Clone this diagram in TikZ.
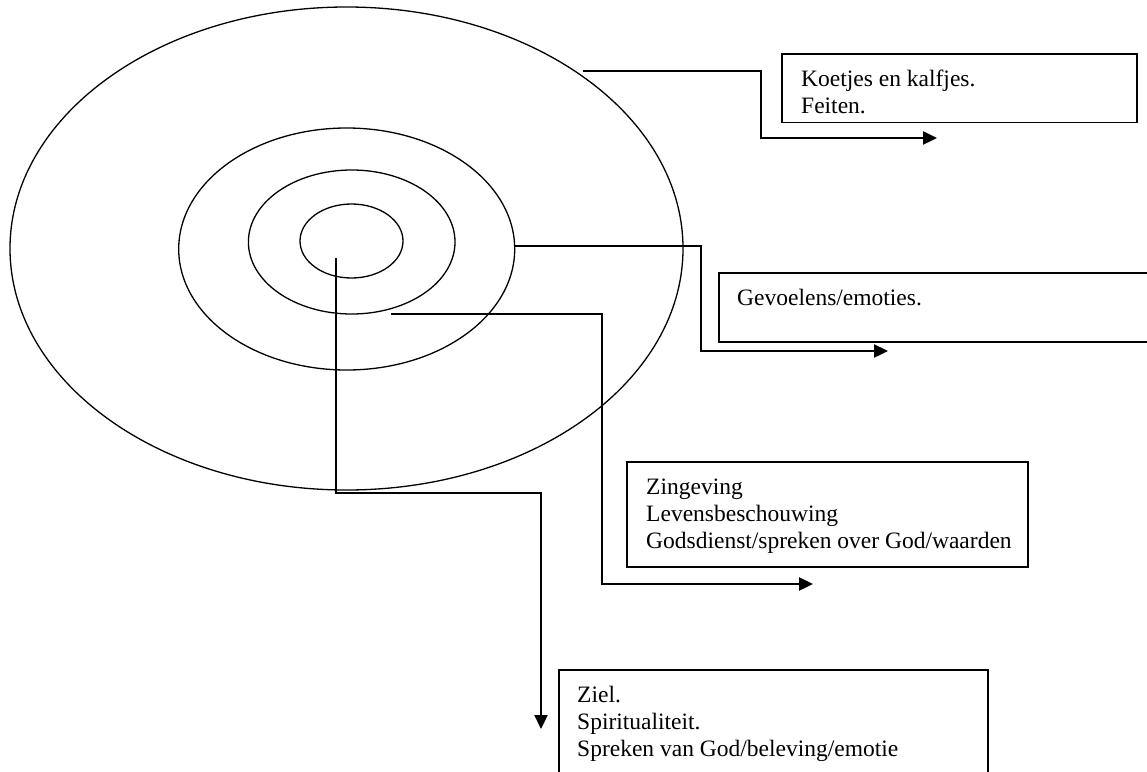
\documentclass[tikz,border=0pt]{standalone}
\usepackage{fontspec}
\setmainfont{Liberation Serif}
\usetikzlibrary{arrows.meta,shapes.geometric}
\begin{document}
\begin{tikzpicture}[x=1pt,y=-1pt,
  ring/.style={draw=black,line width=1.3pt,ellipse,inner sep=0pt,outer sep=0pt},
  boxed/.style={draw=black,line width=1.4pt,rectangle,inner sep=0pt,outer sep=0pt},
  conn/.style={draw=black,line width=2.3pt,line join=miter,-{Triangle[length=14pt,width=13pt]}},
  lbl/.style={anchor=base west,inner sep=0pt,font=\fontsize{23.5}{27}\selectfont}]
\useasboundingbox (0,0) rectangle (1147,771);
\fill[white] (0,0) rectangle (1147,771);
% rings
\node[ring,minimum width=673pt,minimum height=483pt] (r4) at (346.5,248.5) {};
\node[ring,minimum width=336pt,minimum height=242pt] (r3) at (346.7,249) {};
\node[ring,minimum width=206.6pt,minimum height=144pt] (r2) at (351.7,242) {};
\node[ring,minimum width=103pt,minimum height=74pt] (r1) at (351.5,241) {};
% boxes
\node[boxed,minimum width=355pt,minimum height=68.7pt] (b1) at (959.5,88.35) {};
\node[boxed,minimum width=431pt,minimum height=69pt] (b2) at (934.5,307.5) {};
\node[boxed,minimum width=401pt,minimum height=105pt] (b3) at (827.5,514.5) {};
\node[boxed,minimum width=429pt,minimum height=130pt] (b4) at (773.5,735) {};
% texts
\node[lbl] (t1a) at (801,86) {Koetjes en kalfjes.};
\node[lbl] (t1b) at (801,113) {Feiten.};
\node[lbl] (t2a) at (737,305) {Gevoelens/emoties.};
\node[lbl] (t3a) at (646,494) {Zingeving};
\node[lbl] (t3b) at (646,521) {Levensbeschouwing};
\node[lbl] (t3c) at (646,548) {Godsdienst/spreken over God/waarden};
\node[lbl] (t4a) at (577,702) {Ziel.};
\node[lbl] (t4b) at (577,729) {Spiritualiteit.};
\node[lbl] (t4c) at (577,756) {Spreken van God/beleving/emotie};
% connector endpoints
\coordinate (s1) at (583,70.7);
\coordinate (e1) at (937,138);
\coordinate (s2) at (514.5,246);
\coordinate (e2) at (888,351);
\coordinate (s3) at (391,314);
\coordinate (e3) at (813,584);
\coordinate (s4) at (336,258);
\coordinate (e4) at (541,729);
% connectors
\draw[conn] (s1) -- (761,70.7) -- (761,138) -- (e1);
\draw[conn] (s2) -- (701,246) -- (701,351) -- (e2);
\draw[conn] (s3) -- (601.7,314) -- (601.7,584) -- (e3);
\draw[conn] (s4) -- (336,493) -- (541,493) -- (e4);
\end{tikzpicture}
\end{document}
